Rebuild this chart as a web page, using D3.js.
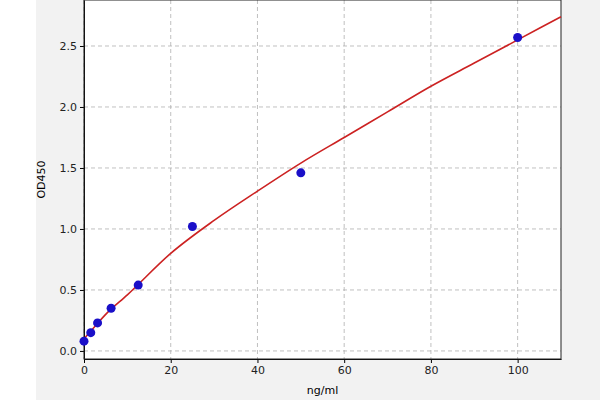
<!DOCTYPE html>
<html><head><meta charset="utf-8">
<script src="https://cdn.jsdelivr.net/npm/d3@7"></script>
<style>body{margin:0;background:#fff}svg{display:block}</style>
</head><body>
<svg id="chart" width="600" height="400"></svg>
<script>
// standard points
const concs = [0, 1.56, 3.125, 6.25, 12.5, 25, 50, 100];
const ods = [0.08, 0.15, 0.23, 0.35, 0.54, 1.02, 1.46, 2.57];
// fitted curve
const curveX = [0, 2, 5, 10, 20, 30, 40, 50, 60, 70, 80, 90, 100, 110];
const curveY = [0.10, 0.18, 0.30, 0.46, 0.80, 1.07, 1.31, 1.54, 1.75, 1.96, 2.17, 2.36, 2.55, 2.74];
const xTicks = [0, 20, 40, 60, 80, 100];
const yTicks = [0.0, 0.5, 1.0, 1.5, 2.0, 2.5];

const svg = d3.select("#chart");
const mLeft = 84, mRight = 561, mTop = 0, mBottom = 359;

svg.append("rect").attr("x", 36).attr("y", 0).attr("width", 564).attr("height", 400).attr("fill", "#f2f2f2");
svg.append("rect").attr("x", mLeft).attr("y", mTop).attr("width", mRight - mLeft).attr("height", mBottom - mTop).attr("fill", "#fff");

const x = d3.scaleLinear().domain([0, 110]).range([mLeft, mRight]);
const y = d3.scaleLinear().domain([-0.066, 2.877]).range([mBottom, mTop]);

const grid = svg.append("g").attr("stroke", "#b0b0b0").attr("stroke-dasharray", "4,3").attr("stroke-width", 0.8);
xTicks.forEach(t => grid.append("line").attr("x1", x(t)).attr("x2", x(t)).attr("y1", mTop).attr("y2", mBottom));
yTicks.forEach(t => grid.append("line").attr("x1", mLeft).attr("x2", mRight).attr("y1", y(t)).attr("y2", y(t)));

const xAxis = svg.append("g").attr("transform", `translate(0,${mBottom})`)
  .call(d3.axisBottom(x).tickValues(xTicks).tickSize(4).tickSizeOuter(0).tickFormat(d3.format("d")));
const yAxis = svg.append("g").attr("transform", `translate(${mLeft},0)`)
  .call(d3.axisLeft(y).tickValues(yTicks).tickSize(4).tickSizeOuter(0).tickFormat(d3.format(".1f")));
[xAxis, yAxis].forEach(a => a.selectAll("text").attr("font-family", "DejaVu Sans").attr("font-size", 11).attr("fill", "#222"));
svg.append("rect").attr("x", mLeft).attr("y", mTop).attr("width", mRight - mLeft).attr("height", mBottom - mTop)
  .attr("fill", "none").attr("stroke", "#222").attr("stroke-width", 1);

const line = d3.line().x((d, i) => x(curveX[i])).y(d => y(d)).curve(d3.curveMonotoneX);
svg.append("path").attr("d", line(curveY)).attr("fill", "none").attr("stroke", "#cc2222").attr("stroke-width", 1.6);

svg.selectAll("circle.pt").data(concs).join("circle").attr("class", "pt")
  .attr("cx", d => x(d)).attr("cy", (d, i) => y(ods[i])).attr("r", 4.5).attr("fill", "#1a0fc8");

svg.append("text").attr("x", (mLeft + mRight) / 2).attr("y", 394).attr("text-anchor", "middle")
  .attr("font-family", "DejaVu Sans").attr("font-size", 11).text("ng/ml");
svg.append("text").attr("transform", `translate(45,${(mTop + mBottom) / 2}) rotate(-90)`).attr("text-anchor", "middle")
  .attr("font-family", "DejaVu Sans").attr("font-size", 11).text("OD450");
</script>
</body></html>
